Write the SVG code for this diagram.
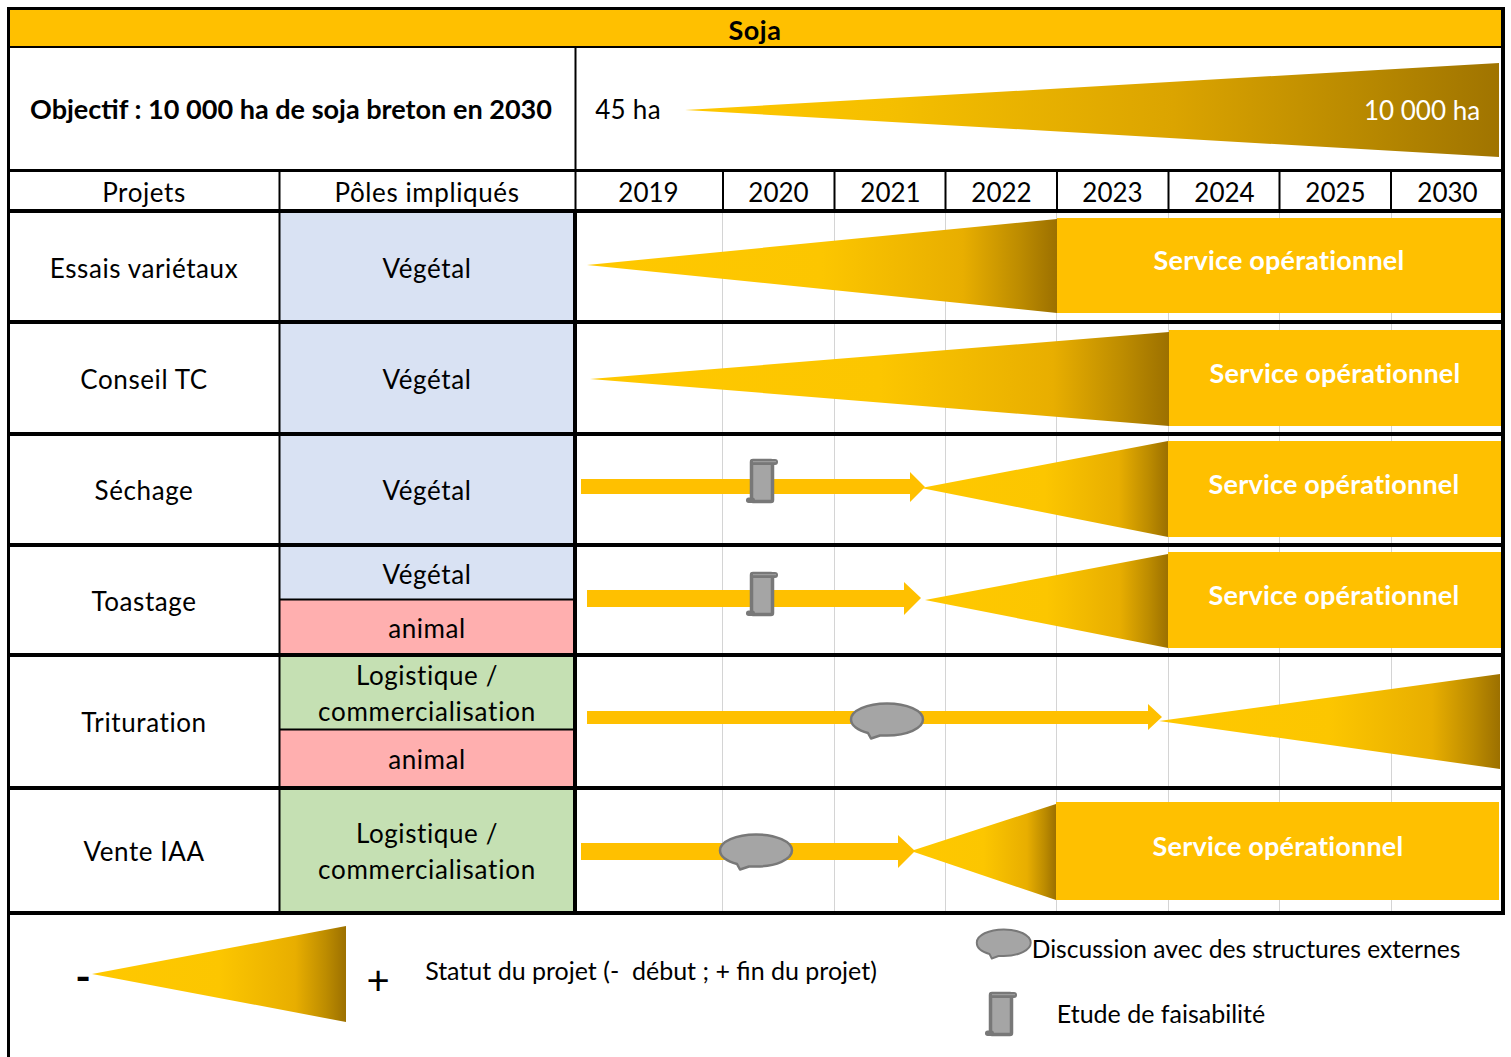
<svg xmlns="http://www.w3.org/2000/svg" width="1511" height="1057" viewBox="0 0 1511 1057">
<style>
text{font-family:"Lato","Liberation Sans",sans-serif;font-size:26px;fill:#000;text-anchor:middle;letter-spacing:.6px;white-space:pre}
.y{letter-spacing:0}
.b{font-weight:700;letter-spacing:0}
.sv{font-weight:700;fill:#fff;font-size:27px;letter-spacing:.2px}
.grid{stroke:#d4d4d4;stroke-width:1;fill:none}
.ln{stroke:#000;fill:none}
.gold{fill:#ffc000}
.tool{fill:#a5a5a5;stroke:#787878;stroke-width:3.500;stroke-linejoin:round}
.dk{fill:#787878}
</style>
<defs>
<linearGradient id="g"><stop offset="0" stop-color="#ffc800"/><stop offset=".5" stop-color="#fcc600"/><stop offset=".8" stop-color="#e8ae00"/><stop offset=".92" stop-color="#bd8c00"/><stop offset="1" stop-color="#9c7000"/></linearGradient>
<linearGradient id="g2"><stop offset="0" stop-color="#ffc800"/><stop offset=".25" stop-color="#f5bf00"/><stop offset=".6" stop-color="#dba400"/><stop offset=".85" stop-color="#b68700"/><stop offset="1" stop-color="#a07400"/></linearGradient>
<g id="scroll"><rect class="tool" x="3.500" y="1.500" width="21" height="41" rx="1.500"/><rect class="dk" x="2" y="0" width="28" height="6" rx="3"/><path d="M5 2.700H28" stroke="#a5a5a5" stroke-width="1" fill="none"/><rect class="dk" x="-2" y="38.500" width="9" height="5.500" rx="2.700"/></g>
<path id="bubble" class="tool" style="stroke-width:2.500" d="M37 .5C17 .5 1 7.700 1 16.500C1 22.500 8 27.500 18 30L21 35.500L30 32.500L37 32.500C57 32.500 73 25.300 73 16.500C73 7.700 57 .5 37 .5Z"/>
</defs>
<rect width="1511" height="1057" fill="#fff"/>
<g id="cells">
<rect x="9" y="9" width="1493" height="38" class="gold"/>
<rect x="280" y="211" width="295" height="110" fill="#d9e2f3"/>
<rect x="280" y="323" width="295" height="110" fill="#d9e2f3"/>
<rect x="280" y="434" width="295" height="110" fill="#d9e2f3"/>
<rect x="280" y="545" width="295" height="54" fill="#d9e2f3"/>
<rect x="280" y="600" width="295" height="54" fill="#ffafaf"/>
<rect x="280" y="655" width="295" height="74" fill="#c5e0b3"/>
<rect x="280" y="730" width="295" height="58" fill="#ffafaf"/>
<rect x="280" y="789" width="295" height="123" fill="#c5e0b3"/>
</g>
<g id="grid">
<path class="grid" d="M722.500 211V912M834.500 211V912M945.500 211V912M1056.500 211V912M1168.500 211V912M1279.500 211V912M1391.500 211V912"/>
</g>
<g id="bars">
<polygon points="685,110 1499,63 1499,157" fill="url(#g2)"/>
<polygon points="587,265 1057,219 1057,313" fill="url(#g)"/>
<rect x="1057" y="218" width="444" height="95" class="gold"/>
<polygon points="590,379 1169,332 1169,426" fill="url(#g)"/>
<rect x="1169" y="330" width="332" height="96" class="gold"/>
<polygon points="921,488 1168,441 1168,537" fill="url(#g)"/>
<rect x="1168" y="441" width="333" height="96" class="gold"/>
<polygon points="925,600 1168,554 1168,648" fill="url(#g)"/>
<rect x="1168" y="552" width="333" height="96" class="gold"/>
<polygon points="1159,721 1500,674 1500,769" fill="url(#g)"/>
<polygon points="911,851 1056,804 1056,900" fill="url(#g)"/>
<rect x="1056" y="802" width="443" height="98" class="gold"/>
<polygon points="92,974 346,926 346,1022" fill="url(#g)"/>
</g>
<g id="connectors">
<polygon class="gold" points="581,479 910,479 910,472 925,487 910,502 910,494 581,494"/>
<polygon class="gold" points="587,590 904,590 904,582 921,598 904,615 904,607 587,607"/>
<polygon class="gold" points="587,711 1148,711 1148,704 1162,717 1148,730 1148,724 587,724"/>
<polygon class="gold" points="581,843 898,843 898,835 915,851 898,868 898,860 581,860"/>
</g>
<g id="markers">
<use href="#scroll" x="748" y="459"/>
<use href="#scroll" x="748" y="572"/>
<use href="#bubble" x="850" y="703"/>
<use href="#bubble" x="719" y="834"/>
<use href="#bubble" transform="translate(976 929) scale(.75 .83)"/>
<use href="#scroll" x="987" y="992"/>
</g>
<g id="lines">
<path class="ln" stroke-width="3" d="M7 8.500H1505M8.500 7V1057"/>
<path class="ln" stroke-width="4" d="M1503 7V915M7 211H1505M7 322H1505M7 434H1505M7 545H1505M7 655H1505M7 788H1505M7 913H1505M575 211V913"/>
<path class="ln" stroke-width="3" d="M7 170.500H1505"/>
<path class="ln" stroke-width="2" d="M7 47H1505M575.500 47V211M279.500 171V913M280 599.500H575M280 729.500H575M723 172V210M834.500 172V210M945.500 172V210M1057 172V210M1168.500 172V210M1279.500 172V210M1391 172V210"/>
</g>
<g id="text">
<text class="b" x="755" y="39.500" style="font-size:27px;letter-spacing:.5px">Soja</text>
<text class="b" x="291" y="118.500" textLength="522" lengthAdjust="spacingAndGlyphs">Objectif : 10 000 ha de soja breton en 2030</text>
<text x="628" y="118.500" style="letter-spacing:.3px">45 ha</text>
<text x="1422" y="120" style="fill:#fff;letter-spacing:0">10 000 ha</text>
<text x="144" y="201.500">Projets</text><text x="427" y="201.500">Pôles impliqués</text>
<text class="y" x="648.500" y="201.500">2019</text><text class="y" x="778.500" y="201.500">2020</text><text class="y" x="890.500" y="201.500">2021</text><text class="y" x="1001.500" y="201.500">2022</text><text class="y" x="1112.500" y="201.500">2023</text><text class="y" x="1224.500" y="201.500">2024</text><text class="y" x="1335.500" y="201.500">2025</text><text class="y" x="1447.500" y="201.500">2030</text>
<text x="144" y="277.500">Essais variétaux</text><text x="427" y="277.500">Végétal</text>
<text x="144" y="388.500">Conseil TC</text><text x="427" y="388.500">Végétal</text>
<text x="144" y="499.500">Séchage</text><text x="427" y="499.500">Végétal</text>
<text x="144" y="610.500">Toastage</text><text x="427" y="583.500">Végétal</text><text x="427" y="637.500">animal</text>
<text x="144" y="731.500">Trituration</text><text x="427" y="684.500">Logistique /</text><text x="427" y="720.500" style="letter-spacing:.75px">commercialisation</text><text x="427" y="768.500">animal</text>
<text x="144" y="860.500">Vente IAA</text><text x="427" y="842.500">Logistique /</text><text x="427" y="878.500" style="letter-spacing:.75px">commercialisation</text>
<text class="sv" x="1279" y="270">Service opérationnel</text>
<text class="sv" x="1335" y="383">Service opérationnel</text>
<text class="sv" x="1334" y="494">Service opérationnel</text>
<text class="sv" x="1334" y="605">Service opérationnel</text>
<text class="sv" x="1278" y="856">Service opérationnel</text>
<text class="b" x="83" y="992" style="font-size:42px">-</text>
<text x="378" y="995" style="font-size:40px;letter-spacing:0">+</text>
<text x="651" y="980" style="font-size:25px;letter-spacing:0">Statut du projet (-  début ; + fin du projet)</text>
<text x="1246" y="958" style="font-size:24.600px;letter-spacing:0">Discussion avec des structures externes</text>
<text x="1161" y="1023" style="font-size:25px;letter-spacing:0">Etude de faisabilité</text>
</g>
</svg>
